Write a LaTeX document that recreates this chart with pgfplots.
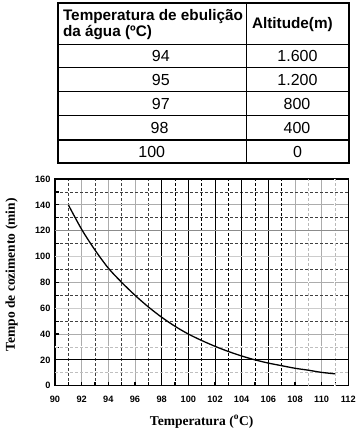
\documentclass[border=0pt]{standalone}
\usepackage{pgfplots}
\pgfplotsset{compat=1.18}
\usepackage{fontspec}
\setmainfont{Liberation Sans}
\newfontfamily\timesf{Liberation Serif}
\begin{document}
\begin{tikzpicture}[x=1pt,y=1pt]
\useasboundingbox (0,0) rectangle (360,436);
% table
\draw[line width=1.3pt] (58,391.7) -- (349.3,391.7);
\foreach \yy in {368.3,344.3,320.3,296} {\draw[line width=1.1pt] (58,\yy) -- (349.3,\yy);}
\draw[line width=1.3pt] (246.7,432.7) -- (246.7,272.7);
\draw[line width=2pt] (58,432.7) rectangle (349.3,272.7);
\node[anchor=west,font=\bfseries\fontsize{15.3}{15.3}\selectfont] at (59.5,419.3) {Temperatura de ebulição};
\node[anchor=west,font=\bfseries\fontsize{15.3}{15.3}\selectfont] at (59.5,403) {da água (ºC)};
\node[anchor=west,font=\bfseries\fontsize{15.3}{15.3}\selectfont] at (248.5,411) {Altitude(m)};
\begin{scope}[every node/.style={font=\fontsize{16}{16}\selectfont}]
\node at (160.8,380) {94};
\node at (160.8,356) {95};
\node at (160.8,332) {97};
\node at (159.5,307.7) {98};
\node at (151.7,284.3) {100};
\node at (297.5,380) {1.600};
\node at (297.5,356) {1.200};
\node at (297,332) {800};
\node at (297,307.7) {400};
\node at (297.5,284.3) {0};
\end{scope}
\begin{axis}[at={(55pt,50.3pt)}, anchor=south west, scale only axis,
  width=293.3pt, height=206.7pt,
  xmin=90, xmax=112, ymin=0, ymax=160,
  xtick={90,92,...,112}, ytick={0,20,...,160},
  minor x tick num=1, minor y tick num=1,
  grid=both,
  major grid style={gray!65, solid, line width=0.8pt},
  minor grid style={dashed, dash pattern=on 3pt off 2pt, black!75, line width=0.6pt},
  tick align=inside, xtick pos=left, ytick pos=left,
  tick style={black, line width=1.2pt},
  major tick length=4pt, minor tick length=4pt,
  axis line style={line width=1.6pt},
  /pgf/number format/assume math mode=true,
  ticklabel style={font=\bfseries\fontsize{9.2}{9.2}\selectfont},
  xticklabel style={yshift=-7pt},
  yticklabel style={xshift=-1pt},
  xlabel={Temperatura (\textsuperscript{o}C)},
  ylabel={Tempo de cozimento (min)},
  xlabel style={font=\timesf\bfseries\fontsize{13.5}{13.5}\selectfont, at={(axis description cs:0.5,-0.174)}, anchor=center},
  ylabel style={font=\timesf\bfseries\fontsize{13.5}{13.5}\selectfont, at={(axis description cs:-0.1476,0.536)}, anchor=center},
]
% overriding grid lines
\foreach \xx in {98,100,102,104,106} {\edef\tmp{\noexpand\draw[black, line width=0.9pt] (axis cs:\xx,0) -- (axis cs:\xx,160);}\tmp}
\foreach \xx in {99,101,103,105,107} {\edef\tmp{\noexpand\draw[black, line width=0.8pt, dash pattern=on 3pt off 2pt] (axis cs:\xx,0) -- (axis cs:\xx,160);}\tmp}
\foreach \xx in {109,111} {\edef\tmp{\noexpand\draw[white, line width=1pt] (axis cs:\xx,0) -- (axis cs:\xx,160); \noexpand\draw[gray!55, line width=0.7pt, dash pattern=on 3pt off 2pt] (axis cs:\xx,0) -- (axis cs:\xx,160);}\tmp}
\draw[black, line width=0.9pt] (axis cs:90,20) -- (axis cs:112,20);
\draw[gray!90, line width=1.4pt] (axis cs:90,120) -- (axis cs:112,120);
\draw[gray!40, line width=1.2pt] (axis cs:90,60) -- (axis cs:112,60);
\draw[gray!40, line width=1.2pt] (axis cs:90,100) -- (axis cs:112,100);
\draw[white, line width=1pt] (axis cs:90,10) -- (axis cs:112,10);
\draw[gray!50, line width=0.7pt, dash pattern=on 3pt off 2pt] (axis cs:90,10) -- (axis cs:112,10);
\draw[white, line width=1pt] (axis cs:90,30) -- (axis cs:112,30);
\draw[gray!50, line width=0.7pt, dash pattern=on 3pt off 2pt] (axis cs:90,30) -- (axis cs:112,30);
\addplot[black, line width=1.3pt, smooth] coordinates {
(91,140) (92,121) (93,105) (94,91) (95,80) (96,70) (97,61) (98,53) (99,46)
(100,40) (101,35) (102,30.5) (103,26.5) (104,23) (105,20) (106,17.5)
(107,15.5) (108,13.5) (109,12) (110,10.3) (111,9.2)};
\end{axis}
\end{tikzpicture}
\end{document}
